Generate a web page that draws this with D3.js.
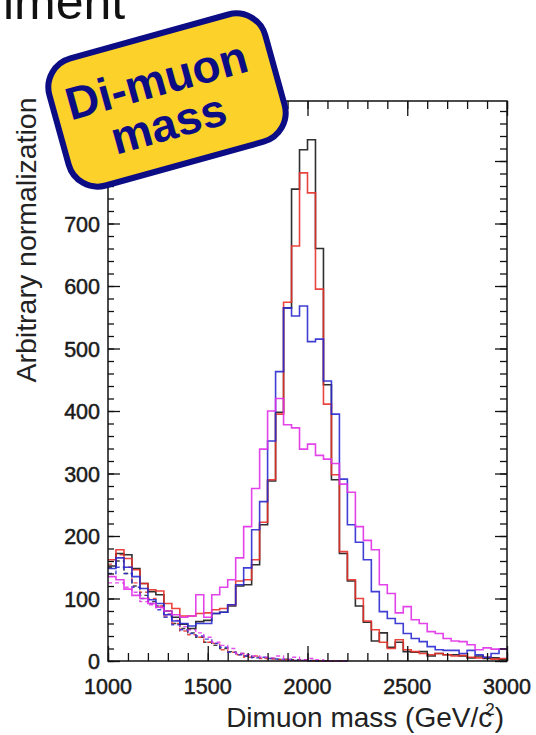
<!DOCTYPE html>
<html>
<head>
<meta charset="utf-8">
<script src="https://cdn.jsdelivr.net/npm/d3@7/dist/d3.min.js"></script>
<style>
body{margin:0;background:#fff}
svg{display:block}
text{font-family:"Liberation Sans",Arial,Helvetica,sans-serif}
</style>
</head>
<body>
<svg id="chart" width="536" height="735"></svg>
<script>
// bins: 50 bins of 40 GeV from 1000 to 3000
var binLow = 1000, binWidth = 40;
var xTicks = [1000, 1500, 2000, 2500, 3000];
var yTicks = [0, 100, 200, 300, 400, 500, 600, 700];

// signal + background (solid)
var blackSolid = [152,172,170,148,124,111,106,80,70,59, 52,63,65,76,78,88,120,122,154,218,
  288,398,565,755,818,834,660,442,290,172, 128,88,62,32,45,22,30,15,14,15, 8,12,10,10,8,5,8,4,5,2];
var redSolid = [162,178,164,146,124,114,112,92,84,72, 72,76,77,82,84,90,128,130,162,222,
  290,395,574,664,781,749,595,411,298,175, 130,100,64,50,30,20,34,18,15,12, 10,12,10,8,9,6,5,6,3,4];
var blueSolid = [148,165,150,135,116,98,92,74,64,60, 56,60,60,76,78,90,122,149,210,255,
  352,463,565,552,568,511,515,448,395,291, 218,190,162,111,79,68,60,44,36,31, 23,18,17,17,12,17,10,6,12,19];
var pinkSolid = [135,130,115,105,100,92,86,80,74,70, 72,106,70,106,118,130,165,215,276,339,
  400,420,378,373,339,347,329,323,316,283, 270,215,193,178,122,108,77,87,66,60, 47,44,36,32,31,26,18,21,19,19];

// background only (dashed)
var blackDash = [150,160,140,120,105,95,88,75,60,52, 45,38,30,25,20,15,12,8,6,5, 4,3,3,2,2,1,0,0,0,0];
var redDash = [155,170,150,125,110,100,88,72,60,48, 42,38,30,28,18,14,10,6,8,4, 3,2,2,1,1,0,0,0,0,0];
var blueDash = [140,150,140,118,100,92,82,70,58,50, 44,40,35,28,22,14,10,8,5,6, 4,3,2,1,1,0,0,0,0,0];
var pinkDash = [125,125,118,110,95,90,85,75,65,55, 50,45,38,30,25,20,12,10,8,6, 5,8,3,6,2,4,2,0,0,0];

var svg = d3.select("#chart");
var pL = 108, pR = 507, pT = 101, pB = 661;

var x = d3.scaleLinear().domain([1000, 3000]).range([pL, pR]);
var y = d3.scaleLinear().domain([0, 896]).range([pB, pT]);

function steps(vals) {
  var pts = vals.map(function(v, i) { return [binLow + i * binWidth, v]; });
  pts.push([binLow + vals.length * binWidth, vals[vals.length - 1]]);
  return pts;
}
var line = d3.line()
  .x(function(d) { return x(d[0]); })
  .y(function(d) { return y(d[1]); })
  .curve(d3.curveStepAfter);

var plot = svg.append("g");

var dashed = [
  {v: blackDash, c: "#222"},
  {v: redDash, c: "#e8302a"},
  {v: blueDash, c: "#2a2ad0"},
  {v: pinkDash, c: "#e030e8"}
];
plot.selectAll("path.bkg").data(dashed).enter().append("path")
  .attr("class", "bkg")
  .attr("d", function(d) { return line(steps(d.v)); })
  .attr("fill", "none")
  .attr("stroke", function(d) { return d.c; })
  .attr("stroke-width", 1.4)
  .attr("stroke-dasharray", "4,3")
  .attr("opacity", 0.85);

var solid = [
  {v: blackSolid, c: "#1a1a1a"},
  {v: redSolid, c: "#e8302a"},
  {v: blueSolid, c: "#2a2ad0"},
  {v: pinkSolid, c: "#e030e8"}
];
plot.selectAll("path.sig").data(solid).enter().append("path")
  .attr("class", "sig")
  .attr("d", function(d) { return line(steps(d.v)); })
  .attr("fill", "none")
  .attr("stroke", function(d) { return d.c; })
  .attr("stroke-width", 1.6)
  .attr("opacity", 0.9);

// frame
svg.append("rect")
  .attr("x", pL).attr("y", pT)
  .attr("width", pR - pL).attr("height", pB - pT)
  .attr("fill", "none").attr("stroke", "#111").attr("stroke-width", 1.5);

// ticks (inside, ROOT style)
var xMinor = d3.range(1000, 3001, 100);
var yMinor = d3.range(0, 881, 20);
var yMajor = yTicks.concat([800]);
function ticks(axis, len) {
  return axis.tickSizeInner(len).tickSizeOuter(0).tickFormat("");
}
svg.append("g").attr("transform", "translate(0," + pB + ")")
  .call(ticks(d3.axisBottom(x).tickValues(xMinor), -8));
svg.append("g").attr("transform", "translate(0," + pB + ")")
  .call(ticks(d3.axisBottom(x).tickValues(xTicks), -15));
svg.append("g").attr("transform", "translate(0," + pT + ")")
  .call(ticks(d3.axisTop(x).tickValues(xMinor), -8));
svg.append("g").attr("transform", "translate(0," + pT + ")")
  .call(ticks(d3.axisTop(x).tickValues(xTicks), -15));
svg.append("g").attr("transform", "translate(" + pL + ",0)")
  .call(ticks(d3.axisLeft(y).tickValues(yMinor), -6));
svg.append("g").attr("transform", "translate(" + pL + ",0)")
  .call(ticks(d3.axisLeft(y).tickValues(yMajor), -12));
svg.append("g").attr("transform", "translate(" + pR + ",0)")
  .call(ticks(d3.axisRight(y).tickValues(yMinor), -7));
svg.append("g").attr("transform", "translate(" + pR + ",0)")
  .call(ticks(d3.axisRight(y).tickValues(yMajor), -12));
svg.selectAll(".domain").remove();
svg.selectAll(".tick text").remove();
svg.selectAll(".tick line").attr("stroke", "#111").attr("stroke-width", 1.3);

// tick labels
svg.selectAll("text.xl").data(xTicks).enter().append("text")
  .attr("class", "xl")
  .attr("x", function(d) { return x(d); }).attr("y", 694)
  .attr("text-anchor", "middle").attr("font-size", 21.5).attr("fill", "#1a1a1a")
  .attr("stroke", "#1a1a1a").attr("stroke-width", 0.5)
  .text(function(d) { return d; });
svg.selectAll("text.yl").data(yTicks).enter().append("text")
  .attr("class", "yl")
  .attr("x", 100).attr("y", function(d) { return y(d) + 8; })
  .attr("text-anchor", "end").attr("font-size", 21.5).attr("fill", "#1a1a1a")
  .attr("stroke", "#1a1a1a").attr("stroke-width", 0.5)
  .text(function(d) { return d; });

// axis titles
var xt = svg.append("text").attr("x", 504).attr("y", 727)
  .attr("text-anchor", "end").attr("font-size", 28).attr("fill", "#222");
xt.append("tspan").text("Dimuon mass (GeV/c");
xt.append("tspan").attr("dx", -7).attr("dy", -12).attr("font-size", 17).text("2");
xt.append("tspan").attr("dy", 12).text(")");

svg.append("text")
  .attr("transform", "translate(36,240) rotate(-90)")
  .attr("text-anchor", "middle").attr("font-size", 28.5).attr("fill", "#222")
  .text("Arbitrary normalization");

// clipped slide title fragment and stray glyph
svg.append("text").attr("x", 3).attr("y", 19)
  .attr("font-size", 50).attr("fill", "#111").text("iment");
svg.append("text").attr("x", -7).attr("y", 692)
  .attr("font-size", 24).attr("fill", "#333").text(")");

// badge
var badge = svg.append("g").attr("transform", "translate(167,100) rotate(-15.5)");
badge.append("rect")
  .attr("x", -112).attr("y", -66).attr("width", 224).attr("height", 132)
  .attr("rx", 30).attr("ry", 30)
  .attr("fill", "#fcd22a").attr("stroke", "#0c0c84").attr("stroke-width", 6);
badge.append("text").attr("x", -5).attr("y", -6)
  .attr("text-anchor", "middle").attr("font-size", 46).attr("font-weight", "bold")
  .attr("fill", "#0c0c84").text("Di-muon");
badge.append("text").attr("x", -5).attr("y", 39)
  .attr("text-anchor", "middle").attr("font-size", 46).attr("font-weight", "bold")
  .attr("fill", "#0c0c84").text("mass");
</script>
</body>
</html>
